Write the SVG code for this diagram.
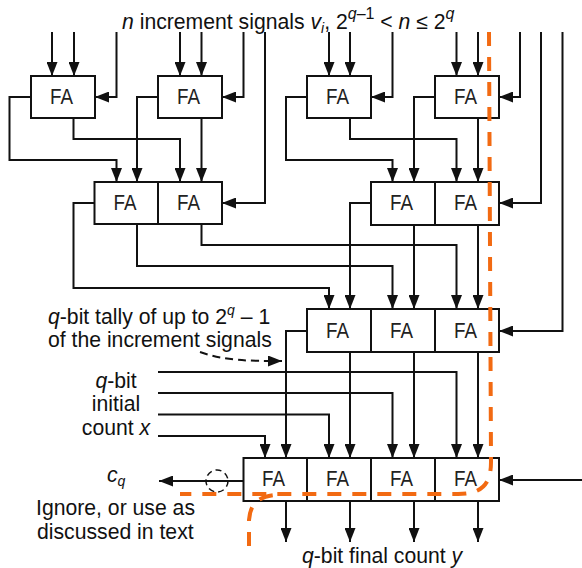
<svg xmlns="http://www.w3.org/2000/svg" width="582" height="568" viewBox="0 0 582 568">
<style>
.b{fill:#fff;stroke:#111;stroke-width:2}
.d{fill:none;stroke:#111;stroke-width:2}
.w{fill:none;stroke:#111;stroke-width:2}
.fa{font-family:"Liberation Sans",Arial,sans-serif;font-size:22px;fill:#222;text-anchor:middle}
.t{font-family:"Liberation Sans",Arial,sans-serif;font-size:21.200px;fill:#111}
.m{text-anchor:middle}
.i{font-style:italic}
.o{fill:none;stroke:#f26a12;stroke-width:4}
</style>
<defs>
<marker id="a" markerUnits="userSpaceOnUse" markerWidth="14" markerHeight="11" refX="14" refY="5.500" orient="auto"><path d="M0 0L14 5.500L0 11z" fill="#111"/></marker>
</defs>
<g id="connectors">
<g class="w">
<path marker-end="url(#a)" d="M52 32V76"/>
<path marker-end="url(#a)" d="M74 32V76"/>
<path marker-end="url(#a)" d="M116.500 32V97H95"/>
<path marker-end="url(#a)" d="M180 32V76"/>
<path marker-end="url(#a)" d="M201.500 32V76"/>
<path marker-end="url(#a)" d="M243.500 32V97H222"/>
<path marker-end="url(#a)" d="M265 32V203H222"/>
<path marker-end="url(#a)" d="M329 32V76"/>
<path marker-end="url(#a)" d="M350 32V76"/>
<path marker-end="url(#a)" d="M392.500 32V97H371"/>
<path marker-end="url(#a)" d="M456.500 32V76"/>
<path marker-end="url(#a)" d="M478 32V76"/>
<path marker-end="url(#a)" d="M520 32V97H499"/>
<path marker-end="url(#a)" d="M541 32V203H499"/>
<path marker-end="url(#a)" d="M562.500 32V331H499"/>
<path marker-end="url(#a)" d="M582 480H499"/>
<path marker-end="url(#a)" d="M31 97H9.500V160H116.500V182"/>
<path marker-end="url(#a)" d="M73.500 118V139H180V182"/>
<path marker-end="url(#a)" d="M158 97H137V182"/>
<path marker-end="url(#a)" d="M201.500 118V182"/>
<path marker-end="url(#a)" d="M307 97H286V160H392.500V182"/>
<path marker-end="url(#a)" d="M350 118V139H456.500V182"/>
<path marker-end="url(#a)" d="M435 97H414V182"/>
<path marker-end="url(#a)" d="M478 118V182"/>
<path marker-end="url(#a)" d="M95 203H73.500V288H329V309"/>
<path marker-end="url(#a)" d="M137 224V266H392.500V309"/>
<path marker-end="url(#a)" d="M201.500 224V245H456.500V309"/>
<path marker-end="url(#a)" d="M371 203H350V309"/>
<path marker-end="url(#a)" d="M414 224V309"/>
<path marker-end="url(#a)" d="M478 224V309"/>
<path marker-end="url(#a)" d="M307 331H286V458"/>
<path marker-end="url(#a)" d="M350 352V458"/>
<path marker-end="url(#a)" d="M414 352V458"/>
<path marker-end="url(#a)" d="M478 352V458"/>
<path marker-end="url(#a)" d="M158 372H456.500V458"/>
<path marker-end="url(#a)" d="M158 393H392.500V458"/>
<path marker-end="url(#a)" d="M158 414.500H329V458"/>
<path marker-end="url(#a)" d="M158 436H265V458"/>
<path marker-end="url(#a)" d="M243.500 481H159"/>
<path marker-end="url(#a)" d="M286 501V542"/>
<path marker-end="url(#a)" d="M350 501V542"/>
<path marker-end="url(#a)" d="M414 501V542"/>
<path marker-end="url(#a)" d="M478 501V542"/>
<path marker-end="url(#a)" stroke-dasharray="8 5" d="M200 352C225 361 250 361 282 361"/>
</g>
</g>
<g id="fa-top-1"><rect class="b" x="31" y="76" width="64" height="42"/><text class="fa" x="61.500" y="104" textLength="23" lengthAdjust="spacingAndGlyphs">FA</text></g>
<g id="fa-top-2"><rect class="b" x="158" y="76" width="64" height="42"/><text class="fa" x="188.500" y="104" textLength="23" lengthAdjust="spacingAndGlyphs">FA</text></g>
<g id="fa-top-3"><rect class="b" x="307" y="76" width="64" height="42"/><text class="fa" x="337.500" y="104" textLength="23" lengthAdjust="spacingAndGlyphs">FA</text></g>
<g id="fa-top-4"><rect class="b" x="435" y="76" width="64" height="42"/><text class="fa" x="465.500" y="104" textLength="23" lengthAdjust="spacingAndGlyphs">FA</text></g>
<g id="fa-row2-left"><rect class="b" x="94.500" y="182" width="127.500" height="42"/><path class="d" d="M158 182V224"/><text class="fa" x="125" y="210" textLength="23" lengthAdjust="spacingAndGlyphs">FA</text><text class="fa" x="188.500" y="210" textLength="23" lengthAdjust="spacingAndGlyphs">FA</text></g>
<g id="fa-row2-right"><rect class="b" x="371" y="182" width="128" height="43"/><path class="d" d="M435 182V225"/><text class="fa" x="401.500" y="210" textLength="23" lengthAdjust="spacingAndGlyphs">FA</text><text class="fa" x="465.500" y="210" textLength="23" lengthAdjust="spacingAndGlyphs">FA</text></g>
<g id="fa-row3"><rect class="b" x="307" y="309" width="192" height="43"/><path class="d" d="M371 309V352M435 309V352"/><text class="fa" x="337.500" y="338" textLength="23" lengthAdjust="spacingAndGlyphs">FA</text><text class="fa" x="401.500" y="338" textLength="23" lengthAdjust="spacingAndGlyphs">FA</text><text class="fa" x="465.500" y="338" textLength="23" lengthAdjust="spacingAndGlyphs">FA</text></g>
<g id="fa-row4"><rect class="b" x="243.500" y="458" width="255.500" height="43"/><path class="d" d="M307 458V501M371 458V501M435 458V501"/><text class="fa" x="273.500" y="486" textLength="23" lengthAdjust="spacingAndGlyphs">FA</text><text class="fa" x="337.500" y="486" textLength="23" lengthAdjust="spacingAndGlyphs">FA</text><text class="fa" x="401.500" y="486" textLength="23" lengthAdjust="spacingAndGlyphs">FA</text><text class="fa" x="465.500" y="486" textLength="23" lengthAdjust="spacingAndGlyphs">FA</text></g>
<g id="ignore-mark"><circle cx="217" cy="481" r="11" fill="none" stroke="#111" stroke-width="1.500" stroke-dasharray="6 4"/></g>
<g id="cut-line">
<path class="o" stroke-dasharray="14 11" d="M489 32L491 462C491 484 482 494 458 494H180"/>
<path class="o" stroke-dasharray="14 11" d="M249 546V520C250 506 256 497 275 495"/>
</g>
<g id="labels">
<text class="t" x="122" y="29"><tspan class="i">n</tspan> increment signals <tspan class="i">v</tspan><tspan class="i" font-size="14" dy="4">i</tspan><tspan dy="-4">, 2</tspan><tspan class="i" font-size="16" dy="-10">q</tspan><tspan font-size="16">–1</tspan><tspan dy="10"> &lt; </tspan><tspan class="i">n</tspan> ≤ 2<tspan class="i" font-size="16" dy="-10">q</tspan></text>
<text class="t" x="48" y="324"><tspan class="i">q</tspan>-bit tally of up to 2<tspan class="i" font-size="14" dy="-9">q</tspan><tspan dy="9"> – 1</tspan></text>
<text class="t" x="48" y="347">of the increment signals</text>
<text class="t m" x="116" y="388"><tspan class="i">q</tspan>-bit</text>
<text class="t m" x="116" y="411">initial</text>
<text class="t m" x="116" y="435">count <tspan class="i">x</tspan></text>
<text class="t" x="107" y="482"><tspan class="i">c</tspan><tspan class="i" font-size="14" dy="4">q</tspan></text>
<text class="t" x="36" y="515">Ignore, or use as</text>
<text class="t" x="37" y="539">discussed in text</text>
<text class="t" x="302" y="563"><tspan class="i">q</tspan>-bit final count <tspan class="i">y</tspan></text>
</g>
</svg>
